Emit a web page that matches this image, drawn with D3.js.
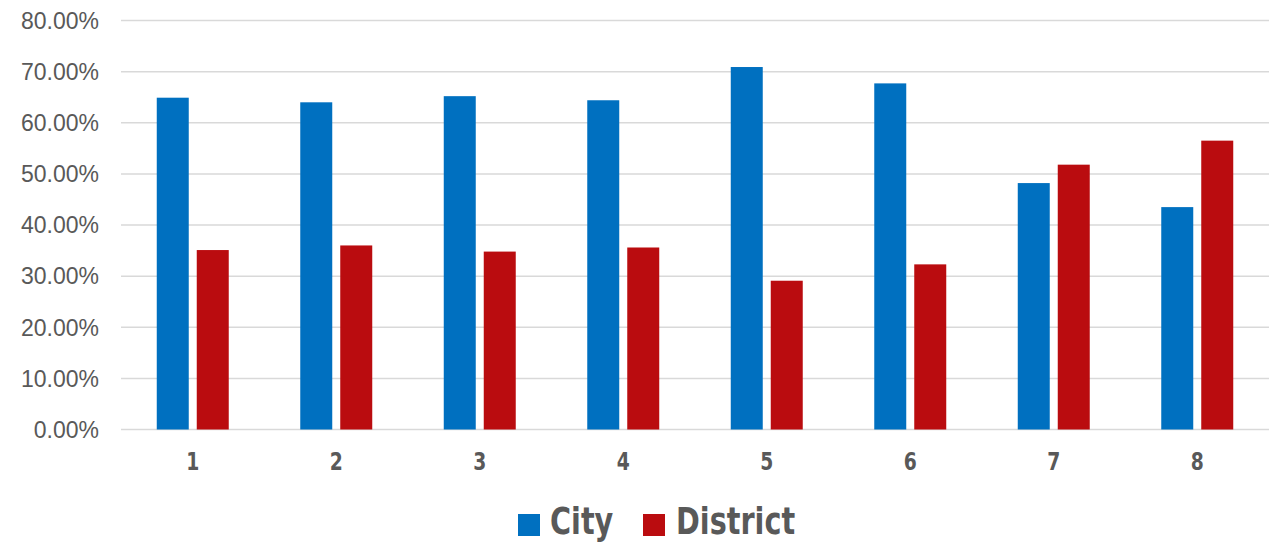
<!DOCTYPE html>
<html>
<head>
<meta charset="utf-8">
<script src="https://d3js.org/d3.v7.min.js"></script>
<style>
  body { margin: 0; background: #fff; }
  svg text { fill: #595959; }
</style>
</head>
<body>
<div id="chart"></div>
<script>
  // chart data
  var categories = ["1", "2", "3", "4", "5", "6", "7", "8"];
  var seriesNames = ["City", "District"];
  var cityValues = [64.9, 64.0, 65.2, 64.4, 70.9, 67.7, 48.2, 43.5];
  var districtValues = [35.1, 36.0, 34.8, 35.6, 29.1, 32.3, 51.8, 56.5];
  var yTicks = [0, 10, 20, 30, 40, 50, 60, 70, 80];
  var colors = ["#0070C0", "#BA0C0F"];

  var width = 1281, height = 543;
  var margin = {top: 20.5, left: 121, right: 12, bottom: 113.5};
  var boldFont = "'DejaVu Sans', sans-serif";

  var svg = d3.select("#chart").append("svg")
      .attr("width", width)
      .attr("height", height);

  var x = d3.scaleBand()
      .domain(categories)
      .range([margin.left, width - margin.right]);

  var y = d3.scaleLinear()
      .domain([0, 80])
      .range([height - margin.bottom, margin.top]);

  var x1 = d3.scaleBand()
      .domain(seriesNames)
      .range([0, x.bandwidth()])
      .paddingInner(0.2)
      .paddingOuter(0.894);

  // grid lines
  svg.append("g")
    .selectAll("line")
    .data(yTicks)
    .enter().append("line")
      .attr("x1", margin.left)
      .attr("x2", width - margin.right)
      .attr("y1", function(d) { return y(d); })
      .attr("y2", function(d) { return y(d); })
      .attr("stroke", "#d9d9d9")
      .attr("stroke-width", 1.5);

  // y labels
  svg.append("g")
    .selectAll("text")
    .data(yTicks)
    .enter().append("text")
      .attr("x", 99)
      .attr("y", function(d) { return y(d); })
      .attr("dy", "0.36em")
      .attr("text-anchor", "end")
      .style("font-family", "'Liberation Sans', Arial, sans-serif")
      .style("font-size", "23px")
      .text(function(d) { return d.toFixed(2) + "%"; });

  var rows = categories.map(function(c, i) {
    return {cat: c, vals: [cityValues[i], districtValues[i]]};
  });

  var groups = svg.append("g")
    .selectAll("g")
    .data(rows)
    .enter().append("g")
      .attr("transform", function(d) { return "translate(" + x(d.cat) + ",0)"; });

  groups.selectAll("rect")
    .data(function(d) { return d.vals.map(function(v, i) { return {name: seriesNames[i], v: v, i: i}; }); })
    .enter().append("rect")
      .attr("x", function(d) { return x1(d.name); })
      .attr("width", x1.bandwidth())
      .attr("y", function(d) { return y(d.v); })
      .attr("height", function(d) { return y(0) - y(d.v); })
      .attr("fill", function(d) { return colors[d.i]; });

  // x labels (condensed bold look)
  svg.append("g")
    .selectAll("text")
    .data(categories)
    .enter().append("text")
      .attr("transform", function(d) {
        return "translate(" + (x(d) + x.bandwidth() / 2) + ",470) scale(0.75,1)";
      })
      .attr("text-anchor", "middle")
      .style("font-family", boldFont)
      .style("font-weight", "bold")
      .style("font-size", "25px")
      .text(function(d) { return d; });

  // legend
  var legendItems = [
    {name: "City", sx: 518, tx: 550},
    {name: "District", sx: 643, tx: 676}
  ];
  var legend = svg.append("g");
  legend.selectAll("rect")
    .data(legendItems)
    .enter().append("rect")
      .attr("x", function(d) { return d.sx; })
      .attr("y", 514)
      .attr("width", 22)
      .attr("height", 22)
      .attr("fill", function(d, i) { return colors[i]; });
  legend.selectAll("text")
    .data(legendItems)
    .enter().append("text")
      .attr("transform", function(d) { return "translate(" + d.tx + ",534) scale(0.755,1)"; })
      .style("font-family", boldFont)
      .style("font-weight", "bold")
      .style("font-size", "38px")
      .text(function(d) { return d.name; });
</script>
</body>
</html>
